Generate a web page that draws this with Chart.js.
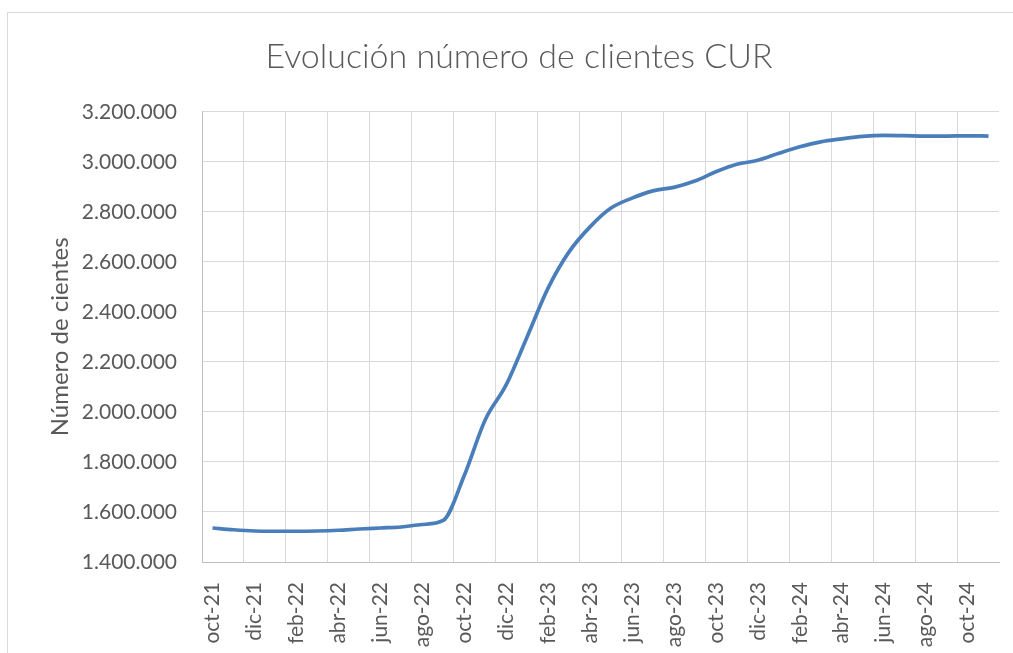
<!DOCTYPE html>
<html><head><meta charset="utf-8">
<script src="https://cdn.jsdelivr.net/npm/chart.js@4/dist/chart.umd.min.js"></script>
<style>
html,body{margin:0;padding:0;background:#fff;overflow:hidden;}
#wrap{position:absolute;left:7px;top:12px;width:1022px;height:660px;border-left:1px solid #d9d9d9;border-top:1px solid #d9d9d9;}
canvas{display:block;}
</style></head>
<body>
<div id="wrap"><canvas id="c" width="1022" height="660"></canvas></div>
<script>
const title = "Evolución número de clientes CUR";
const yTitle = "Número de cientes";
const categories = ["oct-21","nov-21","dic-21","ene-22","feb-22","mar-22","abr-22","may-22","jun-22","jul-22","ago-22","sep-22",
  "oct-22","nov-22","dic-22","ene-23","feb-23","mar-23","abr-23","may-23","jun-23","jul-23","ago-23","sep-23",
  "oct-23","nov-23","dic-23","ene-24","feb-24","mar-24","abr-24","may-24","jun-24","jul-24","ago-24","sep-24","oct-24","nov-24"];
const clientes = [1536000,1529000,1524000,1523000,1523000,1524000,1527000,1532000,1536000,1540000,1550000,1566000,
  1745000,1968000,2108000,2300000,2495000,2640000,2740000,2815000,2855000,2884000,2898000,2923000,
  2960000,2990000,3006000,3034000,3060000,3080000,3092000,3102000,3106000,3105000,3103000,3103000,3104000,3103000];
const yMin = 1400000, yMax = 3200000, yStep = 200000;

const txt = '#595959';
const fam = 'Lato, "Open Sans", sans-serif';
const fmt = v => v.toString().replace(/\B(?=(\d{3})+(?!\d))/g, '.');

new Chart(document.getElementById('c'), {
  type: 'line',
  data: { labels: categories, datasets: [{
    data: clientes, borderColor: '#4a7ebb', borderWidth: 3.7, pointRadius: 0,
    cubicInterpolationMode: 'monotone', fill: false
  }]},
  options: {
    responsive: false, animation: false,
    layout: { padding: { left: 31, right: 31, top: 0, bottom: 0 } },
    plugins: {
      legend: { display: false }, tooltip: { enabled: false },
      title: { display: true, text: title, color: txt, font: { family: fam, size: 34, weight: 300 },
        padding: { top: 24, bottom: 34 } }
    },
    scales: {
      x: {
        offset: true,
        grid: { offset: true, drawTicks: false, color: c => (c.index % 2 === 0 ? '#d9d9d9' : 'rgba(0,0,0,0)'), lineWidth: 1 },
        border: { color: '#bfbfbf', width: 1 },
        ticks: { autoSkip: false, maxRotation: 90, minRotation: 90, padding: 20, color: txt,
          font: { family: fam, size: 21 },
          callback: function(v, i) { return i % 2 === 0 ? categories[i] : ''; } },
        afterFit: s => { s.height = 111; s.paddingRight = 0; s.paddingLeft = 0; }
      },
      y: {
        min: yMin, max: yMax,
        grid: { drawTicks: false, color: '#d9d9d9', lineWidth: 1 },
        border: { color: '#bfbfbf', width: 1 },
        ticks: { stepSize: yStep, padding: 25, color: txt, font: { family: fam, size: 21 }, callback: v => fmt(v) },
        title: { display: true, text: yTitle, color: txt, font: { family: fam, size: 24 }, padding: { top: 7, bottom: 0 } },
        afterFit: s => { s.width = 163; }
      }
    }
  }
});
</script>
</body></html>
